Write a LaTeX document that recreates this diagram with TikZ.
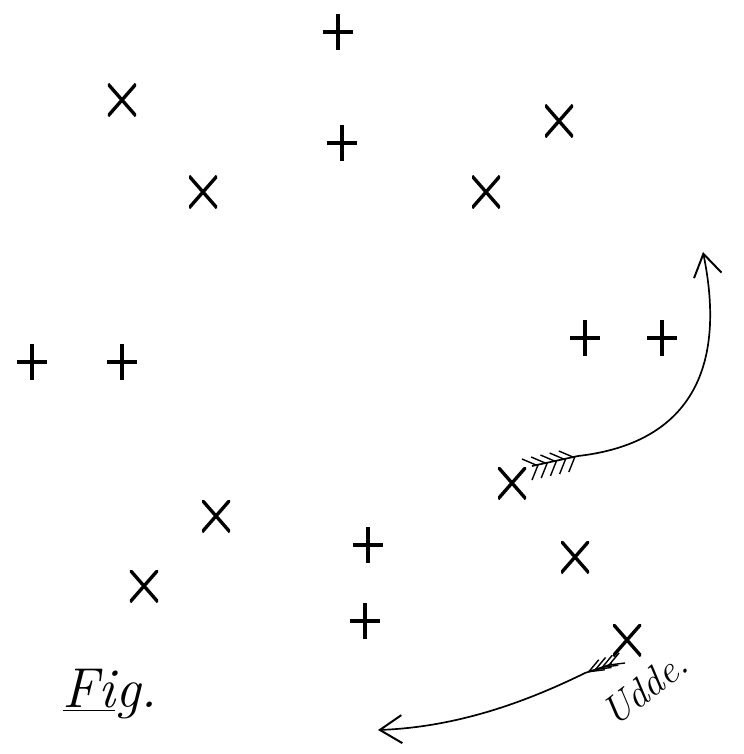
\documentclass[tikz,border=0pt]{standalone}
\usepackage{tikz}
\usetikzlibrary{arrows.meta,calc}

\begin{document}
\begin{tikzpicture}[
    x=0.025cm, y=-0.025cm,
    plusmark/.style={minimum width=0.75cm, minimum height=0.9cm, inner sep=0pt,
        path picture={\draw[line width=2.4pt]
            (path picture bounding box.west) -- (path picture bounding box.east)
            (path picture bounding box.north) -- (path picture bounding box.south);}},
    crossmark/.style={minimum width=0.7cm, minimum height=0.8cm, inner sep=0pt,
        path picture={\draw[line width=2.4pt]
            (path picture bounding box.north west) -- (path picture bounding box.south east)
            (path picture bounding box.south west) -- (path picture bounding box.north east);}},
    shaft/.style={line width=1.2pt, -{Straight Barb[length=0.55cm, width=0.7cm, line width=1.4pt]}},
    feather/.style={line width=1pt}
]
\useasboundingbox (0,0) rectangle (743,754);

% Plus marks
\node[plusmark] (p1) at (338, 32) {};
\node[plusmark] (p2) at (342,143) {};
\node[plusmark] (p3) at ( 32,362) {};
\node[plusmark] (p4) at (122,362) {};
\node[plusmark] (p5) at (585,338) {};
\node[plusmark] (p6) at (662,338) {};
\node[plusmark] (p7) at (368,545) {};
\node[plusmark] (p8) at (365,621) {};

% Cross marks
\node[crossmark] (x1) at (122,100) {};
\node[crossmark] (x2) at (203,192) {};
\node[crossmark] (x3) at (559,121) {};
\node[crossmark] (x4) at (486,192) {};
\node[crossmark] (x5) at (216,516) {};
\node[crossmark] (x6) at (144,586) {};
\node[crossmark] (x7) at (575,557) {};
\node[crossmark] (x8) at (627,640) {};
\node[crossmark] (x9) at (512,483) {};

% Upper arrow
\coordinate (tailA) at (532,466);
\coordinate (fletchA) at (578,456);
\coordinate (headA) at (703,252);
\draw[shaft] (tailA) -- (fletchA) .. controls (675,445) and (730,385) .. (headA);
\foreach \k in {0,...,4} {
    \draw[feather] ($(tailA)!\k/5!(fletchA)$) ++(4,-1) -- ++(-14,-6);
    \draw[feather] ($(tailA)!\k/5!(fletchA)$) ++(6,-1) -- ++(-6,15);
}

% Lower arrow
\coordinate (tailB) at (612,664);
\coordinate (fletchB) at (585,673);
\coordinate (headB) at (378,730);
\draw[shaft] (tailB) -- (fletchB) .. controls (530,700) and (460,727) .. (headB);
\foreach \k in {0,...,3} {
    \draw[feather] ($(tailB)!\k/4!(fletchB)$) ++(-3,1) -- ++(10,-12);
    \draw[feather] ($(tailB)!\k/4!(fletchB)$) ++(-3,1) -- ++(16,-2);
}

% Labels
\node[font=\fontsize{40}{40}\selectfont\itshape] (fig) at (110,694) {\underline{Fi}g.};
\node[font=\fontsize{28}{28}\selectfont\itshape, rotate=37, inner sep=0pt] (udde) at (645,688) {Udde.};

\end{tikzpicture}
\end{document}
